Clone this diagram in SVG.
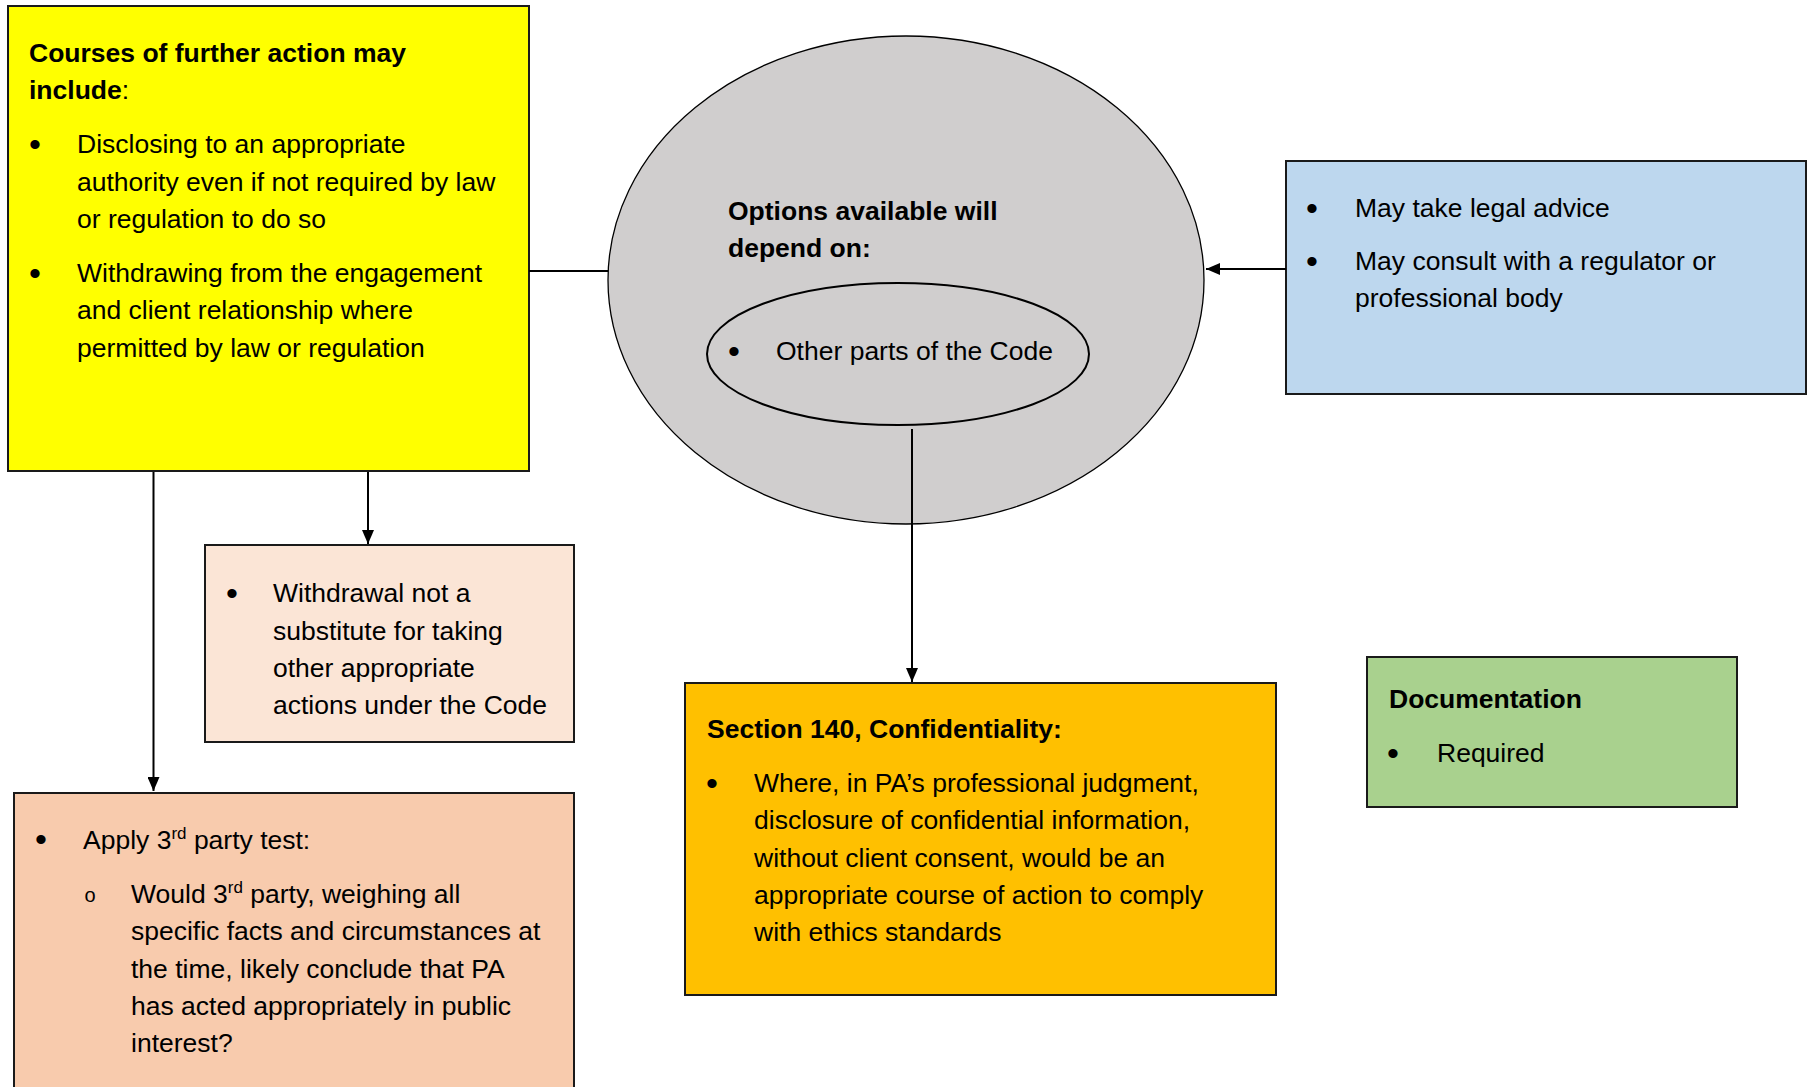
<svg xmlns="http://www.w3.org/2000/svg" width="1809" height="1087" viewBox="0 0 1809 1087">
<style>
text{font-family:"Liberation Sans",Arial,sans-serif;font-size:26.5px;fill:#000}
.b{font-weight:bold}
.bu{font-size:34px;text-anchor:middle}
.sb{font-size:20px;text-anchor:middle}
.box{stroke:#1a1a1a;stroke-width:2}
.conn{stroke:#000;stroke-width:2;fill:none}
.sup{font-size:17px}
</style>
<defs>
<marker id="arrL" viewBox="0 0 10 10" refX="10" refY="5" markerWidth="14" markerHeight="12" markerUnits="userSpaceOnUse" orient="auto" preserveAspectRatio="none">
<path d="M0,0 L10,5 L0,10 z" fill="#000"/>
</marker>
</defs>
<rect width="1809" height="1087" fill="#fff"/>

<g id="further-action">
<rect class="box" x="8" y="6" width="521" height="465" fill="#FFFF00"/>
<text class="b" x="29" y="62">Courses of further action may</text>
<text x="29" y="99"><tspan class="b">include</tspan>:</text>
<text class="bu" x="35" y="156">•</text>
<text x="77" y="153">Disclosing to an appropriate</text>
<text x="77" y="190.5">authority even if not required by law</text>
<text x="77" y="228">or regulation to do so</text>
<text class="bu" x="35" y="284.5">•</text>
<text x="77" y="281.5">Withdrawing from the engagement</text>
<text x="77" y="319">and client relationship where</text>
<text x="77" y="356.5">permitted by law or regulation</text>
</g>

<g id="options">
<ellipse cx="906" cy="280" rx="298" ry="244" fill="#D0CECE" stroke="#000" stroke-width="1.3"/>
<text class="b" x="728" y="220">Options available will</text>
<text class="b" x="728" y="257">depend on:</text>
</g>

<g id="other-parts">
<ellipse cx="898" cy="354" rx="191" ry="71" fill="#D0CECE" stroke="#000" stroke-width="2"/>
<text class="bu" x="734" y="363">•</text>
<text x="776" y="360">Other parts of the Code</text>
</g>

<g id="advice">
<rect class="box" x="1286" y="161" width="520" height="233" fill="#BDD7EE"/>
<text class="bu" x="1312" y="220">•</text>
<text x="1355" y="217">May take legal advice</text>
<text class="bu" x="1312" y="273">•</text>
<text x="1355" y="270">May consult with a regulator or</text>
<text x="1355" y="307">professional body</text>
</g>

<g id="withdrawal">
<rect class="box" x="205" y="545" width="369" height="197" fill="#FBE5D6"/>
<text class="bu" x="232" y="605">•</text>
<text x="273" y="602">Withdrawal not a</text>
<text x="273" y="639.5">substitute for taking</text>
<text x="273" y="677">other appropriate</text>
<text x="273" y="714">actions under the Code</text>
</g>

<g id="third-party">
<rect class="box" x="14" y="793" width="560" height="300" fill="#F8CBAD"/>
<text class="bu" x="41" y="851">•</text>
<text x="83" y="849">Apply 3<tspan class="sup" dy="-10">rd</tspan><tspan dy="10"> party test:</tspan></text>
<text class="sb" x="90" y="902">o</text>
<text x="131" y="903">Would 3<tspan class="sup" dy="-10">rd</tspan><tspan dy="10"> party, weighing all</tspan></text>
<text x="131" y="940">specific facts and circumstances at</text>
<text x="131" y="977.5">the time, likely conclude that PA</text>
<text x="131" y="1014.5">has acted appropriately in public</text>
<text x="131" y="1051.5">interest?</text>
</g>

<g id="confidentiality">
<rect class="box" x="685" y="683" width="591" height="312" fill="#FFC000"/>
<text class="b" x="707" y="738">Section 140, Confidentiality:</text>
<text class="bu" x="712" y="795">•</text>
<text x="754" y="792">Where, in PA’s professional judgment,</text>
<text x="754" y="829">disclosure of confidential information,</text>
<text x="754" y="866.5">without client consent, would be an</text>
<text x="754" y="903.5">appropriate course of action to comply</text>
<text x="754" y="940.5">with ethics standards</text>
</g>

<g id="documentation">
<rect class="box" x="1367" y="657" width="370" height="150" fill="#A9D18E"/>
<text class="b" x="1389" y="708">Documentation</text>
<text class="bu" x="1393" y="765">•</text>
<text x="1437" y="762">Required</text>
</g>

<g id="connectors">
<line class="conn" x1="529" y1="271" x2="608" y2="271"/>
<line class="conn" x1="1286" y1="269" x2="1206" y2="269" marker-end="url(#arrL)"/>
<line class="conn" x1="368" y1="472" x2="368" y2="544" marker-end="url(#arrL)"/>
<line class="conn" x1="153.5" y1="472" x2="153.5" y2="791" marker-end="url(#arrL)"/>
<line class="conn" x1="912" y1="429" x2="912" y2="682" marker-end="url(#arrL)"/>
</g>
</svg>
